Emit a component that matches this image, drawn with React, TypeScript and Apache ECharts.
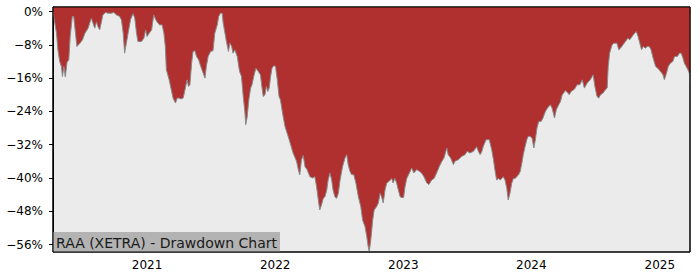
import React, { useEffect, useRef } from "react";
import * as echarts from "echarts";

const chartTitle = "RAA (XETRA) - Drawdown Chart";

const dates: string[] = [
  "2020-04-08","2020-04-13","2020-04-18","2020-04-22","2020-04-27","2020-05-02","2020-05-05","2020-05-09","2020-05-13","2020-05-18",
  "2020-05-23","2020-05-27","2020-06-02","2020-06-06","2020-06-12","2020-06-15","2020-06-23","2020-07-01","2020-07-08","2020-07-17",
  "2020-07-26","2020-07-31","2020-08-05","2020-08-10","2020-08-14","2020-08-19","2020-08-24","2020-08-28","2020-09-05","2020-09-12",
  "2020-09-21","2020-09-28","2020-10-06","2020-10-15","2020-10-20","2020-10-25","2020-10-29","2020-11-03","2020-11-08","2020-11-15",
  "2020-11-22","2020-11-27","2020-12-02","2020-12-06","2020-12-16","2020-12-23","2020-12-28","2021-01-01","2021-01-07","2021-01-14",
  "2021-01-20","2021-01-26","2021-02-01","2021-02-06","2021-02-13","2021-02-18","2021-02-22","2021-02-25","2021-03-05","2021-03-10",
  "2021-03-16","2021-03-23","2021-03-28","2021-04-02","2021-04-07","2021-04-14","2021-04-18","2021-04-25","2021-04-29","2021-05-03",
  "2021-05-08","2021-05-12","2021-05-17","2021-05-22","2021-05-28","2021-06-03","2021-06-10","2021-06-15","2021-06-19","2021-06-24",
  "2021-07-01","2021-07-08","2021-07-13","2021-07-20","2021-07-24","2021-07-29","2021-08-03","2021-08-06","2021-08-11","2021-08-15",
  "2021-08-21","2021-08-25","2021-08-30","2021-09-03","2021-09-08","2021-09-15","2021-09-20","2021-09-22","2021-09-27","2021-10-02",
  "2021-10-07","2021-10-09","2021-10-13","2021-10-18","2021-10-23","2021-10-27","2021-11-01","2021-11-07","2021-11-14","2021-11-20",
  "2021-11-24","2021-11-28","2021-12-03","2021-12-07","2021-12-11","2021-12-15","2021-12-19","2021-12-23","2021-12-28","2022-01-02",
  "2022-01-07","2022-01-12","2022-01-16","2022-01-22","2022-01-29","2022-02-04","2022-02-10","2022-02-21","2022-03-03","2022-03-08",
  "2022-03-12","2022-03-17","2022-03-22","2022-03-27","2022-04-02","2022-04-10","2022-04-18","2022-04-24","2022-04-29","2022-05-04",
  "2022-05-08","2022-05-13","2022-05-18","2022-05-23","2022-05-28","2022-06-01","2022-06-06","2022-06-11","2022-06-15","2022-06-20",
  "2022-06-25","2022-06-30","2022-07-05","2022-07-12","2022-07-19","2022-07-24","2022-07-28","2022-08-02","2022-08-07","2022-08-13",
  "2022-08-19","2022-08-26","2022-09-02","2022-09-07","2022-09-14","2022-09-19","2022-09-23","2022-09-26","2022-09-30","2022-10-06",
  "2022-10-10","2022-10-17","2022-10-22","2022-10-27","2022-10-31","2022-11-05","2022-11-10","2022-11-15","2022-11-22","2022-11-29",
  "2022-12-03","2022-12-08","2022-12-13","2022-12-18","2022-12-23","2022-12-27","2023-01-02","2023-01-06","2023-01-11","2023-01-18",
  "2023-01-25","2023-01-31","2023-02-08","2023-02-16","2023-02-22","2023-03-01","2023-03-09","2023-03-15","2023-03-23","2023-03-30",
  "2023-04-06","2023-04-14","2023-04-21","2023-04-27","2023-05-05","2023-05-09","2023-05-16","2023-05-24","2023-05-28","2023-06-07",
  "2023-06-17","2023-06-26","2023-07-02","2023-07-10","2023-07-20","2023-07-29","2023-08-03","2023-08-08","2023-08-13","2023-08-17",
  "2023-08-25","2023-09-03","2023-09-10","2023-09-15","2023-09-19","2023-09-24","2023-09-29","2023-10-04","2023-10-09","2023-10-13",
  "2023-10-18","2023-10-23","2023-10-27","2023-11-01","2023-11-06","2023-11-11","2023-11-16","2023-11-20","2023-11-25","2023-11-30",
  "2023-12-05","2023-12-09","2023-12-14","2023-12-19","2023-12-23","2023-12-28","2024-01-03","2024-01-08","2024-01-12","2024-01-17",
  "2024-01-22","2024-01-29","2024-02-03","2024-02-10","2024-02-16","2024-02-24","2024-02-29","2024-03-07","2024-03-12","2024-03-19",
  "2024-03-24","2024-03-29","2024-04-02","2024-04-07","2024-04-14","2024-04-18","2024-04-23","2024-05-01","2024-05-05","2024-05-10",
  "2024-05-18","2024-05-25","2024-05-31","2024-06-08","2024-06-17","2024-06-25","2024-06-30","2024-07-06","2024-07-11","2024-07-16",
  "2024-07-23","2024-07-30","2024-08-04","2024-08-07","2024-08-11","2024-08-18","2024-08-23","2024-08-28","2024-09-01","2024-09-06",
  "2024-09-11","2024-09-18","2024-09-25","2024-10-02","2024-10-07","2024-10-14","2024-10-21","2024-10-26","2024-10-31","2024-11-05",
  "2024-11-10","2024-11-15","2024-11-21","2024-11-26","2024-12-02","2024-12-07","2024-12-13","2024-12-20","2024-12-26","2025-01-03",
  "2025-01-10","2025-01-14","2025-01-20","2025-01-25","2025-01-31","2025-02-07","2025-02-12","2025-02-20","2025-02-26","2025-03-03",
  "2025-03-08","2025-03-12","2025-03-17","2025-03-22","2025-03-26","2025-03-28",
];

const drawdown: number[] = [
  0,-2.7,-5.2,-9.2,-12,-13.2,-15.6,-13.2,-15.7,-12.2,
  -11.6,-6,-1.2,-1.2,-6,-8.4,-7.7,-6.8,-5.2,-4,
  -1.6,-2.8,-4,-2.5,-3.6,-4.4,-2.5,-0.8,-0.2,-0.4,
  -0.4,-0.2,-0.8,-1.2,-2,-5.2,-10,-7.6,-5.2,-1.9,
  -0.5,-1.6,-5.2,-7.2,-7.2,-6.4,-4.4,-6,-5.2,-4.4,
  -0.8,-2,-2.8,-3.2,-3.2,-5.2,-8.4,-14,-16.4,-18.4,
  -20.8,-22,-20.8,-20.8,-21,-20.8,-19.2,-16.4,-18,-17.6,
  -12.4,-9.6,-9.4,-10.8,-11.6,-13.2,-14.8,-16,-13.2,-10.8,
  -9.6,-9.4,-5.2,-3.2,-1.2,-0.4,-0.4,-2.8,-5.2,-7.2,
  -9.6,-7.6,-8.4,-10,-9.2,-10.8,-13.6,-14.5,-15.6,-20.4,
  -24.4,-27.2,-25.5,-21.2,-18.4,-17.6,-15.6,-13.6,-14.4,-15.2,
  -18,-20.4,-20,-18,-19.2,-18.4,-15.6,-13.6,-13,-13.2,
  -16.4,-20.4,-21.2,-24.4,-27.6,-29.2,-30.8,-34,-36,-38,
  -39.3,-35.6,-34.6,-37.3,-38,-39.7,-40,-39.7,-42.1,-45.3,
  -47.7,-46.5,-44.9,-44.5,-42.9,-40.5,-38.8,-40.5,-42.9,-44.5,
  -44.9,-43.7,-40.5,-37.3,-35.2,-34.4,-36.8,-38.4,-39.2,-39.2,
  -41.2,-44.5,-46.9,-50.1,-51.7,-54.1,-56.5,-57.7,-55.3,-50.1,
  -47.7,-46.9,-46,-43.7,-44.5,-46,-42.9,-41.2,-40.8,-40.1,
  -41.2,-40.1,-41.2,-42.9,-44.5,-44.7,-44.7,-42.1,-40.1,-38.9,
  -37.6,-38.8,-38,-38.4,-38.8,-39.7,-41.2,-41.6,-40.5,-40.1,
  -38.8,-37.2,-36,-35.2,-32.8,-34.4,-35.2,-36.8,-36,-35.6,
  -34.8,-34.4,-33.6,-34,-33.6,-32.5,-33.6,-34.4,-33.6,-32.4,
  -30.8,-30.8,-33.2,-35.6,-38,-40.5,-40.1,-40.5,-40.1,-39.7,
  -40.5,-42.5,-45.3,-43.7,-41.3,-40.1,-40.1,-39.7,-39.3,-38.5,
  -36.4,-34.4,-32.5,-30.8,-30,-30,-30.4,-32.8,-31,-28,
  -26.4,-26.4,-25.6,-24,-23.2,-22.4,-23.2,-25.6,-23.6,-22.4,
  -21.6,-20,-19.6,-19,-19.6,-20,-19.2,-18.8,-18.4,-17.6,
  -17.6,-16.4,-18.4,-17.2,-16.4,-15.2,-18,-20.4,-20.8,-20,
  -19.6,-18.8,-18.4,-13.2,-10,-8,-7.6,-7.6,-7.6,-9.2,
  -8.8,-8,-7.2,-6.4,-6.8,-6,-5.2,-4.8,-6,-7.6,
  -9.2,-8.4,-8.8,-8.4,-8.4,-9.2,-11.2,-13.2,-13.6,-14.4,
  -15.2,-16.4,-14.8,-13.2,-12.4,-12,-10.8,-10.8,-10,-10,
  -11.2,-12.4,-13.2,-14,-14.8,-17.6,
];

const yTicks: number[] = [0, -8, -16, -24, -32, -40, -48, -56];
const yRange: number[] = [-57.8, 1.1];

function toTs(s: string): number {
  const [y, m, d] = s.split("-").map(Number);
  return new Date(y, m - 1, d).getTime();
}

export default function App() {
  const ref = useRef<HTMLDivElement>(null);

  useEffect(() => {
    if (!ref.current) return;
    const chart = echarts.init(ref.current, undefined, { renderer: "svg" });
    const font = "DejaVu Sans";
    const seriesData = dates.map((d, i) => [toTs(d), drawdown[i]]);
    const gl = 53, gt = 7, gr = 10, gb = 28;
    const YEAR = 365 * 24 * 3600 * 1000;

    chart.setOption({
      animation: false,
      title: {
        text: chartTitle,
        left: gl,
        bottom: gb,
        padding: [3, 3, 2, 3],
        backgroundColor: "#b3b3b3",
        textStyle: { fontFamily: font, fontSize: 14, fontWeight: "normal", color: "#1a1a1a", lineHeight: 15 },
        z: 10,
      },
      grid: {
        left: gl, right: gr, top: gt, bottom: gb,
        show: true, backgroundColor: "#ebebeb", borderColor: "#000", borderWidth: 1,
      },
      xAxis: {
        type: "time",
        min: toTs(dates[0]),
        max: toTs(dates[dates.length - 1]),
        minInterval: YEAR,
        maxInterval: YEAR + 24 * 3600 * 1000,
        splitLine: { show: false },
        axisLine: { show: true, lineStyle: { color: "#000", width: 1 } },
        axisTick: { show: true, length: 4, lineStyle: { color: "#000" } },
        axisLabel: {
          formatter: "{yyyy}",
          showMinLabel: false,
          showMaxLabel: false,
          fontFamily: font, fontSize: 12, color: "#000", margin: 7,
        },
      },
      yAxis: {
        type: "value",
        min: yRange[0],
        max: yRange[1],
        splitLine: { show: false },
        axisLine: { show: true, lineStyle: { color: "#000", width: 1 } },
        axisTick: { show: true, length: 4, lineStyle: { color: "#000" }, customValues: yTicks },
        axisLabel: {
          customValues: yTicks,
          formatter: (v: number) => {
            const r = Math.round(v);
            return (r < 0 ? "\u2212" + Math.abs(r) : String(r)) + "%";
          },
          fontFamily: font, fontSize: 12, color: "#000", margin: 10,
        },
      },
      series: [
        {
          type: "line",
          data: seriesData,
          showSymbol: false,
          symbol: "none",
          lineStyle: { color: "#8a8a8a", width: 1 },
          areaStyle: { color: "#b03030", opacity: 1, origin: "end" },
        },
      ],
      graphic: [
        {
          type: "rect",
          shape: { x: gl, y: gt, width: 700 - gl - gr, height: 280 - gt - gb },
          style: { fill: "none", stroke: "#000", lineWidth: 1 },
          z: 100,
          silent: true,
        },
      ],
    });
    return () => chart.dispose();
  }, []);

  return (
    <div
      ref={ref}
      style={{ position: "absolute", left: 0, top: 0, width: 700, height: 280, background: "#fff" }}
    />
  );
}
